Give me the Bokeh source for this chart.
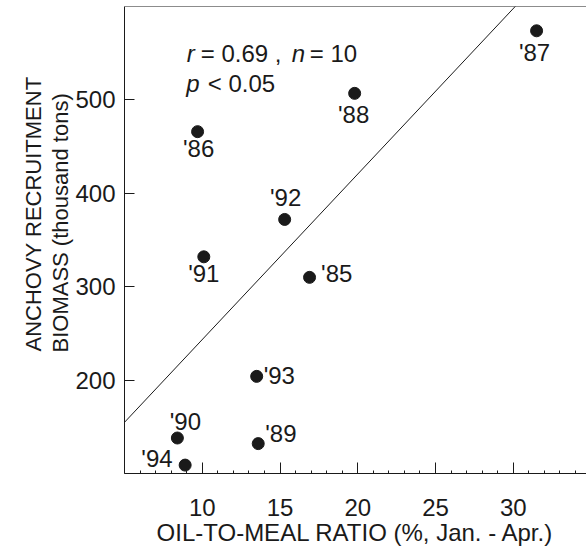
from bokeh.plotting import figure
from bokeh.models import Range1d, FixedTicker, Label, Span, Title, ColumnDataSource
from bokeh.core.properties import value
from bokeh.embed import file_html
from bokeh.resources import INLINE

# ---- data ----
years = ["'85", "'86", "'87", "'88", "'89", "'90", "'91", "'92", "'93", "'94"]
oil_meal_ratio = [16.9, 9.7, 31.5, 19.8, 13.6, 8.4, 10.1, 15.3, 13.5, 8.9]
biomass = [310, 466, 574, 507, 132, 138, 332, 372, 204, 109]
fit_intercept = 66.2
fit_slope = 17.72
x_ticks = [10, 15, 20, 25, 30]
y_ticks = [200, 300, 400, 500]
x_title = "OIL-TO-MEAL RATIO (%, Jan. - Apr.)"
y_title_1 = "ANCHOVY RECRUITMENT"
y_title_2 = "BIOMASS (thousand tons)"

# ---- label placement (align, dx px, dy px; dy positive = down) ----
label_place = {
    "'85": ("left", 11.5, -4),
    "'86": ("center", 1, 17),
    "'87": ("center", -2, 21.5),
    "'88": ("center", -1, 21),
    "'89": ("left", 7, -10),
    "'90": ("center", 8, -17),
    "'91": ("center", 0, 16.5),
    "'92": ("center", 1, -21.5),
    "'93": ("left", 7, -1),
    "'94": ("right", -12.5, -7),
}

FONT = "Liberation Sans"
INK = "#1a1a1a"
X0, X1 = 5, 34.71
Y0, Y1 = 100, 600

p = figure(width=586, height=551, output_backend="svg", toolbar_location=None,
           x_range=Range1d(X0, X1), y_range=Range1d(Y0, Y1),
           min_border_left=124, min_border_right=0, min_border_top=6,
           min_border_bottom=78)
p.xgrid.visible = False
p.ygrid.visible = False
p.outline_line_color = None
p.background_fill_color = "white"
p.border_fill_color = "white"

# x axis
xa = p.xaxis[0]
xa.ticker = FixedTicker(ticks=x_ticks, minor_ticks=list(range(5, 36)))
xa.axis_line_color = INK
xa.major_tick_line_color = INK
xa.minor_tick_line_color = INK
xa.major_tick_in = 11
xa.major_tick_out = 0
xa.minor_tick_in = 3
xa.minor_tick_out = 0
xa.major_label_text_font = FONT
xa.major_label_text_font_size = "24px"
xa.major_label_text_color = INK
xa.major_label_standoff = 25
xa.axis_label = x_title
xa.axis_label_text_font = FONT
xa.axis_label_text_font_style = "normal"
xa.axis_label_text_font_size = "24px"
xa.axis_label_text_color = INK
xa.axis_label_standoff = 0

# y axis
ya = p.yaxis[0]
ya.ticker = FixedTicker(ticks=y_ticks)
ya.axis_line_color = INK
ya.major_tick_line_color = INK
ya.minor_tick_line_color = None
ya.major_tick_in = 10
ya.major_tick_out = 0
ya.major_label_text_font = FONT
ya.major_label_text_font_size = "24px"
ya.major_label_text_color = INK
ya.major_label_standoff = 9

# y titles (two lines)
t2 = Title(text=y_title_2, align="left", offset=121, text_font=FONT,
           text_font_size="22px", text_font_style="normal", text_color=INK, standoff=0)
p.add_layout(t2, "left")
t1 = Title(text=y_title_1, align="left", offset=122, text_font=FONT,
           text_font_size="22px", text_font_style="normal", text_color=INK, standoff=0)
p.add_layout(t1, "left")

# top border
p.add_layout(Span(location=Y1, dimension="width", line_color=INK, line_width=1))

# regression line
fx = [X0, X1]
fy = [fit_intercept + fit_slope * v for v in fx]
p.line(fx, fy, line_color=INK, line_width=1)

# points
p.scatter(oil_meal_ratio, biomass, size=12, color=INK)

# point labels
for align in ("left", "center", "right"):
    rows = [i for i, yr in enumerate(years) if label_place[yr][0] == align]
    src = ColumnDataSource(dict(
        x=[oil_meal_ratio[i] for i in rows],
        y=[biomass[i] for i in rows],
        t=[years[i] for i in rows],
        dx=[label_place[years[i]][1] for i in rows],
        dy=[label_place[years[i]][2] for i in rows],
    ))
    p.text("x", "y", text="t", x_offset="dx", y_offset="dy", source=src,
           text_font=value(FONT), text_font_size="24px", text_color=INK,
           text_align=align, text_baseline="middle")

# statistics annotation
ann_x = 9.0
for txt, dx, yv, style in [("r", 0, 549.5, "italic"),
                           ("= 0.69 ,", 14, 549.5, "normal"),
                           ("n", 105, 549.5, "italic"),
                           ("= 10", 123, 549.5, "normal"),
                           ("p", -0.5, 517.5, "italic"),
                           ("< 0.05", 21, 517.5, "normal")]:
    p.add_layout(Label(x=ann_x, y=yv, x_offset=dx, text=txt, text_font=FONT,
                       text_font_size="24px", text_font_style=style, text_color=INK,
                       text_baseline="alphabetic", text_align="left"))

open("out.html", "w").write(file_html(p, INLINE))
